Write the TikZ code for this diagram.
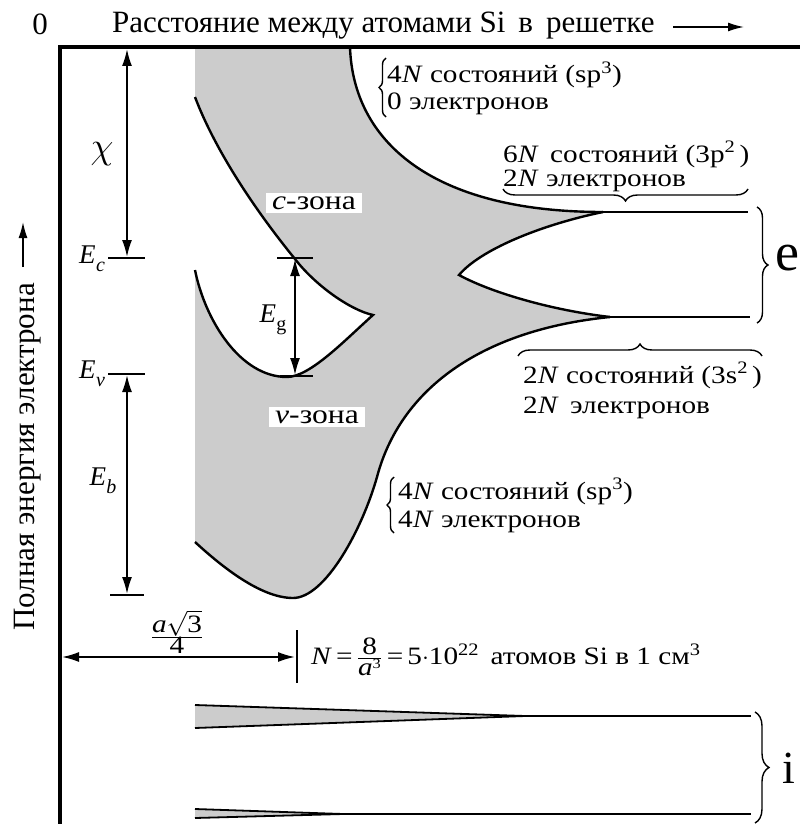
\documentclass[tikz,border=0pt]{standalone}
\usepackage{fontspec}
\usepackage{graphicx}
\setmainfont{Liberation Serif}
\newfontfamily\widefont[FakeStretch=1.17]{Liberation Serif}
\usetikzlibrary{arrows.meta,decorations.pathreplacing}
\definecolor{bandgray}{gray}{0.8}
\newcommand\Esub[2]{\textit{E}\kern0.5pt\raisebox{-0.28em}{\fontsize{20}{20}\selectfont #1{#2}}}
\begin{document}
\begin{tikzpicture}[x=1pt,y=-1pt,
  txt/.style={inner sep=0pt, font=\widefont\fontsize{25}{29}\selectfont},
  etxt/.style={inner sep=0pt, font=\fontsize{27}{30}\selectfont},
  bigtxt/.style={inner sep=0pt, font=\fontsize{31}{36}\selectfont},
  curve/.style={line width=2.4pt},
  level/.style={line width=2.2pt},
  tick/.style={line width=1.8pt},
  frame/.style={line width=3.4pt},
  dimarrow/.style={line width=1.8pt,{Latex[length=17pt,width=10pt]}-{Latex[length=17pt,width=10pt]}},
  axarrow/.style={line width=1.6pt,-{Latex[length=16pt,width=9pt]}},
  bracedeco/.style={line width=1.4pt,decorate,decoration={brace,amplitude=#1}},
  zone/.style={fill=white, inner xsep=6pt, inner ysep=4pt, font=\widefont\fontsize{27}{30}\selectfont}]
\useasboundingbox (0,0) rectangle (800,824);

% ---------- gray bands ----------
\path[fill=bandgray] (195,47) -- (350,47)
  .. controls (353,140) and (430,212) .. (603,212)
  .. controls (540,225) and (480,250) .. (459,275)
  .. controls (490,292) and (550,310) .. (610,317)
  .. controls (480,330) and (400,390) .. (377,477)
  .. controls (362,530) and (325,598) .. (293,598)
  .. controls (260,598) and (220,565) .. (195,542)
  -- (195,270)
  .. controls (205,320) and (240,377) .. (287,377)
  .. controls (310,377) and (345,340) .. (373,315)
  .. controls (350,310) and (315,285) .. (295,259)
  .. controls (255,210) and (215,150) .. (195,97)
  -- cycle;
\draw[curve] (350,47) .. controls (353,140) and (430,212) .. (603,212);
\draw[curve] (603,212) .. controls (540,225) and (480,250) .. (459,275)
  .. controls (490,292) and (550,310) .. (610,317);
\draw[curve] (610,317) .. controls (480,330) and (400,390) .. (377,477)
  .. controls (362,530) and (325,598) .. (293,598)
  .. controls (260,598) and (220,565) .. (195,542);
\draw[curve] (195,270) .. controls (205,320) and (240,377) .. (287,377)
  .. controls (310,377) and (345,340) .. (373,315)
  .. controls (350,310) and (315,285) .. (295,259)
  .. controls (255,210) and (215,150) .. (195,97);

% e levels
\coordinate (eup0) at (603,212); \coordinate (eup1) at (748,212);
\coordinate (elo0) at (610,317); \coordinate (elo1) at (750,317);
\draw[level] (eup0) -- (eup1);
\draw[level] (elo0) -- (elo1);

% i levels
\coordinate (iu1) at (195,705); \coordinate (iutip) at (525,716); \coordinate (iu2) at (195,728); \coordinate (iuend) at (751,716);
\coordinate (il1) at (195,809); \coordinate (iltip) at (343,814); \coordinate (il2) at (195,818); \coordinate (ilend) at (751,814);
\fill[bandgray] (iu1) -- (iutip) -- (iu2) -- cycle;
\fill[bandgray] (il1) -- (iltip) -- (il2) -- cycle;
\draw[tick] (iu1) -- (iutip) -- (iu2);
\draw[tick] (il1) -- (iltip) -- (il2);
\draw[tick] (iutip) -- (iuend);
\draw[tick] (iltip) -- (ilend);

% ---------- frame ----------
\coordinate (fb) at (60,824); \coordinate (fc) at (60,47); \coordinate (fr) at (800,47);
\draw[frame] (fb) -- (fc) -- (fr);

% ---------- axis labels ----------
\node[bigtxt] (zero) at (40,24) {0};
\node[bigtxt, anchor=base west] (title) at (112,33) {Расстояние между атомами Si\, в\, решетке};
\coordinate (ta1) at (673,27); \coordinate (ta2) at (744,27);
\draw[axarrow] (ta1) -- (ta2);
\node[bigtxt, rotate=90, anchor=base] (ylab) at (34,457) {Полная энергия электрона};
\coordinate (ya1) at (23,267); \coordinate (ya2) at (23,222);
\draw[axarrow] (ya1) -- (ya2);

% ---------- energy marks ----------
\coordinate (Ec0) at (108,258); \coordinate (Ec1) at (145,258);
\coordinate (Ev0) at (108,374); \coordinate (Ev1) at (145,374);
\coordinate (Eb0) at (110,595); \coordinate (Eb1) at (144,595);
\coordinate (Eg0) at (277,258); \coordinate (Eg1) at (313,258);
\coordinate (Eg2) at (280,376); \coordinate (Eg3) at (313,376);
\draw[tick] (Ec0) -- (Ec1);
\draw[tick] (Ev0) -- (Ev1);
\draw[tick] (Eb0) -- (Eb1);
\draw[tick] (Eg0) -- (Eg1);
\draw[tick] (Eg2) -- (Eg3);
\coordinate (chiT) at (127,49); \coordinate (chiB) at (127,257);
\coordinate (ebT) at (127,375); \coordinate (ebB) at (127,594);
\coordinate (egT) at (295,259); \coordinate (egB) at (295,375);
\draw[dimarrow] (chiT) -- (chiB);
\draw[dimarrow] (ebT) -- (ebB);
\draw[dimarrow] (egT) -- (egB);

\node[inner sep=0pt, font=\fontsize{24}{24}\selectfont] (chi) at (102,154) {\scalebox{1.5}{$\chi$}};
\node[etxt] (Ec) at (92,259) {\Esub{\itshape}{c}};
\node[etxt] (Ev) at (92,374) {\Esub{\itshape}{v}};
\node[etxt] (Eb) at (103,481) {\Esub{\itshape}{b}};
\node[etxt] (Eg) at (273,320) {\Esub{\upshape}{g}};

\node[zone] (czone) at (314,203) {\textit{c}-зона};
\node[zone] (vzone) at (317,417) {\textit{v}-зона};

% ---------- annotations ----------
\node[txt, anchor=base west] (a1) at (387,83) {4\textit{N} состояний (sp\textsuperscript{3})};
\node[txt, anchor=base west] (a2) at (387,110) {0 электронов};
\coordinate (b1a) at (386,117); \coordinate (b1b) at (386,58);
\draw[bracedeco=7pt] (b1a) -- (b1b);

\node[txt, anchor=base west] (b1) at (503,162) {6\textit{N}\, состояний (3p\textsuperscript{2}\,)};
\node[txt, anchor=base west] (b2) at (503,186) {2\textit{N} электронов};
\coordinate (b2a) at (748,189); \coordinate (b2b) at (503,189);
\draw[bracedeco=12pt] (b2a) -- (b2b);

\node[txt, anchor=base west] (c1) at (523,383) {2\textit{N} состояний (3s\textsuperscript{2}\,)};
\node[txt, anchor=base west] (c2) at (523,413) {2\textit{N}\, электронов};
\coordinate (b3a) at (518,356); \coordinate (b3b) at (762,356);
\draw[bracedeco=12pt] (b3a) -- (b3b);

\node[txt, anchor=base west] (d1) at (398,499) {4\textit{N} состояний (sp\textsuperscript{3})};
\node[txt, anchor=base west] (d2) at (398,527) {4\textit{N} электронов};
\coordinate (b4a) at (394,533); \coordinate (b4b) at (394,477);
\draw[bracedeco=7pt] (b4a) -- (b4b);

% e and i braces
\coordinate (be1) at (757,207); \coordinate (be2) at (757,323);
\draw[bracedeco=11pt] (be1) -- (be2);
\node[inner sep=0pt, font=\fontsize{54}{54}\selectfont] (elab) at (787,258) {e};
\coordinate (bi1) at (755,712); \coordinate (bi2) at (755,823);
\draw[bracedeco=14pt] (bi1) -- (bi2);
\node[inner sep=0pt, font=\fontsize{46}{46}\selectfont] (ilab) at (789,768) {i};

% ---------- lattice spacing ----------
\node[txt] (frac) at (177,632) {$\frac{\mbox{\itshape a}\sqrt{\mbox{3}}}{\mbox{4}}$};
\coordinate (bar1) at (297,630); \coordinate (bar2) at (297,683);
\draw[tick] (bar1) -- (bar2);
\coordinate (da1) at (62,657); \coordinate (da2) at (295,657);
\draw[dimarrow] (da1) -- (da2);
\node[txt, anchor=west] (Nform) at (311,657) {\textit{N}\,=\,$\frac{\mbox{8}}{\mbox{\itshape a}^{\mbox{\fontsize{14}{14}\selectfont 3}}}$\,=\,5$\cdot$10\textsuperscript{22}\, атомов Si в 1 см\textsuperscript{3}};
\end{tikzpicture}
\end{document}
